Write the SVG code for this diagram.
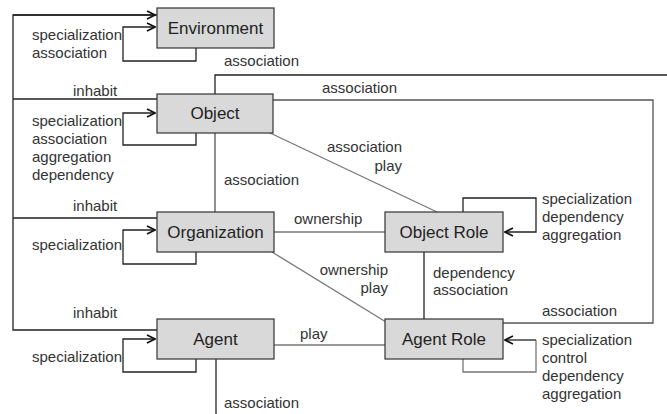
<svg xmlns="http://www.w3.org/2000/svg" width="667" height="414" viewBox="0 0 667 414">
<defs>
<marker id="arr" markerWidth="10" markerHeight="10" refX="9" refY="5" orient="auto" markerUnits="userSpaceOnUse">
<path d="M1,1 L9,5 L1,9" fill="none" stroke="#111" stroke-width="1.6"/>
</marker>
</defs>
<style>
.box{fill:#d9d9d9;stroke:#333;stroke-width:1.2}
.nt{font-family:"Liberation Sans",Arial,sans-serif;font-size:17px;fill:#222;text-anchor:middle}
.lb{font-family:"Liberation Sans",Arial,sans-serif;font-size:15px;fill:#333}
.k{fill:none;stroke:#222;stroke-width:1.3}
.g{fill:none;stroke:#777;stroke-width:1.3}
.d{fill:none;stroke:#555;stroke-width:1.3}
</style>
<rect width="667" height="414" fill="#fff"/>
<g id="connectors">
<path class="k" d="M157,15 H13 V330 H157" />
<path class="k" d="M13,15 H155" marker-end="url(#arr)"/>
<path class="k" d="M13,99 H157 M13,218 H157"/>
<path class="k" d="M196,48 V61 H123 V27 H155" marker-end="url(#arr)"/>
<path class="k" d="M196,133 V145 H123 V113 H155" marker-end="url(#arr)"/>
<path class="k" d="M196,252 V264 H123 V230 H155" marker-end="url(#arr)"/>
<path class="k" d="M196,359 V372 H123 V339 H155" marker-end="url(#arr)"/>
<path class="k" d="M215,94 V75 H667"/>
<path class="d" d="M273,100 H653 V323 H503"/>
<path class="d" d="M215,133 V212"/>
<path class="g" d="M268,132 L437,212"/>
<path class="g" d="M274,232 H385"/>
<path class="g" d="M272,252 L386,322"/>
<path class="g" d="M274,345 H385"/>
<path class="k" d="M424,252 V319"/>
<path class="k" d="M463,212 V198 H536 V232 H505" marker-end="url(#arr)"/>
<path class="g" d="M463,359 V372 H536 V340"/>
<path class="k" d="M536,340 H505" marker-end="url(#arr)"/>
<path class="k" d="M216,359 V414"/>
</g>
<g id="labels">
<text class="lb" x="32" y="40">specialization</text>
<text class="lb" x="32" y="58">association</text>
<text class="lb" x="224" y="66">association</text>
<text class="lb" x="322" y="93">association</text>
<text class="lb" x="73" y="96">inhabit</text>
<text class="lb" x="32" y="126">specialization</text>
<text class="lb" x="32" y="144">association</text>
<text class="lb" x="32" y="162">aggregation</text>
<text class="lb" x="32" y="180">dependency</text>
<text class="lb" x="402" y="152" text-anchor="end">association</text>
<text class="lb" x="402" y="171" text-anchor="end">play</text>
<text class="lb" x="224" y="185">association</text>
<text class="lb" x="73" y="211">inhabit</text>
<text class="lb" x="294" y="224">ownership</text>
<text class="lb" x="32" y="250">specialization</text>
<text class="lb" x="542" y="204">specialization</text>
<text class="lb" x="542" y="222">dependency</text>
<text class="lb" x="542" y="240">aggregation</text>
<text class="lb" x="388" y="275" text-anchor="end">ownership</text>
<text class="lb" x="388" y="293" text-anchor="end">play</text>
<text class="lb" x="433" y="278">dependency</text>
<text class="lb" x="433" y="295">association</text>
<text class="lb" x="542" y="316">association</text>
<text class="lb" x="73" y="318">inhabit</text>
<text class="lb" x="300" y="339">play</text>
<text class="lb" x="32" y="362">specialization</text>
<text class="lb" x="542" y="345">specialization</text>
<text class="lb" x="542" y="363">control</text>
<text class="lb" x="542" y="381">dependency</text>
<text class="lb" x="542" y="399">aggregation</text>
<text class="lb" x="224" y="408">association</text>
</g>
<g id="environment"><rect class="box" x="157" y="8" width="117" height="40"/><text class="nt" x="215.5" y="34">Environment</text></g>
<g id="object"><rect class="box" x="157" y="94" width="116" height="39"/><text class="nt" x="215" y="119">Object</text></g>
<g id="organization"><rect class="box" x="157" y="212" width="117" height="40"/><text class="nt" x="215.5" y="238">Organization</text></g>
<g id="agent"><rect class="box" x="157" y="319" width="117" height="40"/><text class="nt" x="215.5" y="345">Agent</text></g>
<g id="object-role"><rect class="box" x="385" y="212" width="118" height="40"/><text class="nt" x="444" y="238">Object Role</text></g>
<g id="agent-role"><rect class="box" x="385" y="319" width="118" height="40"/><text class="nt" x="444" y="345">Agent Role</text></g>
</svg>
